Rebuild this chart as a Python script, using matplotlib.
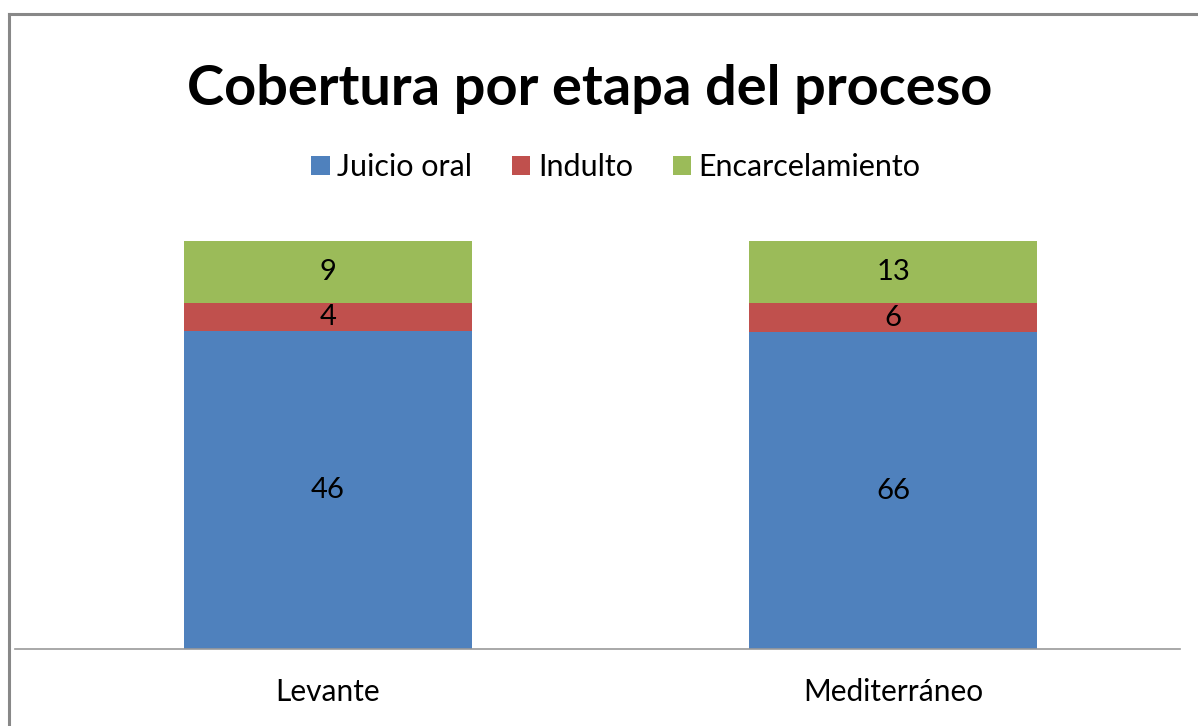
"""Cobertura por etapa del proceso - 100% stacked columns."""
import matplotlib
matplotlib.use("Agg")
import matplotlib.pyplot as plt
from matplotlib.lines import Line2D
import numpy as np

categories = ["Levante", "Mediterráneo"]
series_names = ["Juicio oral", "Indulto", "Encarcelamiento"]
juicio_oral = [46, 66]
indulto = [4, 6]
encarcelamiento = [9, 13]
colors = ["#4F81BD", "#C0504D", "#9BBB59"]

W, H = 1198, 726
FONT = ["Lato", "DejaVu Sans"]

fig = plt.figure(figsize=(W / 100, H / 100), dpi=100)
fig.patch.set_facecolor("white")

# axes placed so the bars span y=241..649 px
ax = fig.add_axes([0.0, 1 - 649 / H, 1.0, (649 - 241) / H])
ax.set_xlim(-328 / 565, (W - 328) / 565)
ax.set_ylim(0, 1)
ax.axis("off")

series = np.array([juicio_oral, indulto, encarcelamiento], dtype=float)
shares = series / series.sum(axis=0)
x = np.arange(len(categories))
bottom = np.zeros(len(categories))
for name, vals, sh, col in zip(series_names, series, shares, colors):
    ax.bar(x, sh, bottom=bottom, width=0.508, color=col, label=name, clip_on=False)
    for xi, b, s, v in zip(x, bottom, sh, vals):
        ax.text(xi, b + s / 2, f"{int(v)}", ha="center", va="center",
                fontsize=21, family=FONT, color="black")
    bottom += sh

# category axis line
ax.add_line(Line2D([(15 - 328) / 565, (1180 - 328) / 565], [0, 0], color="#999999", lw=1.2, clip_on=False))
for xi, cat in zip(x, categories):
    ax.text(xi, -43 / 408, cat, ha="center", va="center", fontsize=21.5, family=FONT)

fig.text(590 / W, 1 - 89 / H, "Cobertura por etapa del proceso", ha="center", va="center",
         fontsize=40.3, fontweight="bold", family=FONT)

handles, labels = ax.get_legend_handles_labels()
fig.legend(handles, labels, loc="center", bbox_to_anchor=(616 / W, 1 - 167 / H), ncol=3,
           frameon=False, prop={"family": FONT, "size": 22}, handlelength=0.6, handleheight=0.6,
           handletextpad=0.25, columnspacing=1.3)

# chart frame (only top and left edges fall inside the image)
fig.add_artist(Line2D([9 / W, 1], [1 - 14 / H, 1 - 14 / H], color="#888888", lw=2.2, transform=fig.transFigure))
fig.add_artist(Line2D([9 / W, 9 / W], [0, 1 - 14 / H], color="#888888", lw=2.2, transform=fig.transFigure))

fig.savefig("out.png", dpi=100)
